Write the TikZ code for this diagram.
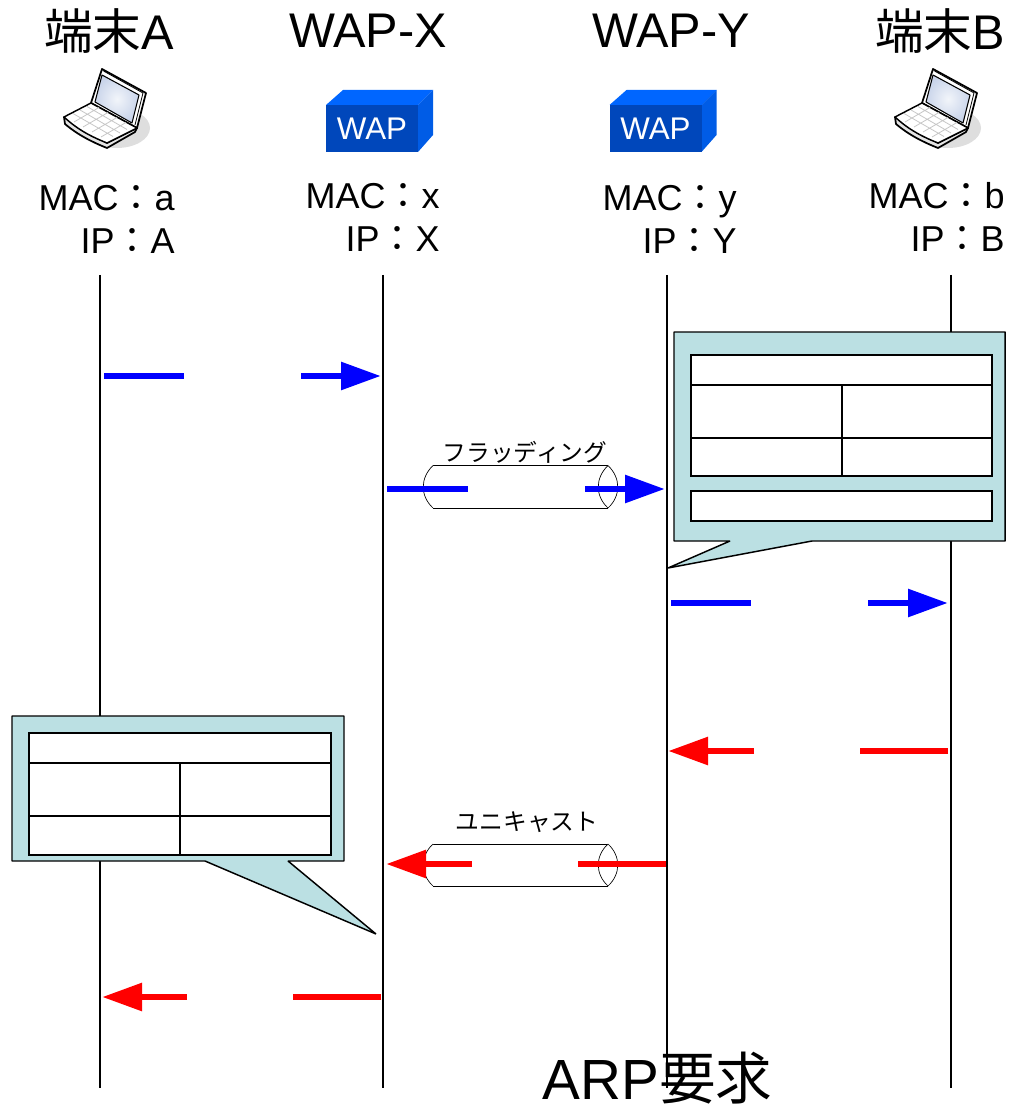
\documentclass[tikz,border=0pt]{standalone}
\usepackage{fontspec}
\setmainfont{Liberation Sans}
\newfontfamily\cjk{Noto Sans CJK JP}
\usetikzlibrary{arrows.meta}
\definecolor{tip100} {HTML}{BBE0E3}
\definecolor{wap600} {HTML}{0047BB}
\definecolor{wap400} {HTML}{0066FF}
\definecolor{wap500} {HTML}{005CE6}
\definecolor{shade300}{HTML}{DEDEDE}
\definecolor{deck100}{HTML}{E4E4E4}
\definecolor{lcd200} {HTML}{C9D4EA}
\definecolor{lcd100} {HTML}{F2F5FA}
\tikzset{
  head/.style  ={font=\fontsize{36.5}{40}\selectfont, inner sep=0pt},
  addr/.style  ={font=\fontsize{27}{32.25}\selectfont, align=right, inner sep=0pt},
  tag/.style   ={font=\fontsize{17.8}{20}\selectfont\cjk, inner sep=0pt},
  life/.style  ={draw=black, line width=1.1pt},
  tube/.style  ={draw=black, line width=0.5pt, fill=white},
  tipbox/.style={draw=black, line width=1.1pt, fill=tip100, line join=bevel},
  cell/.style  ={draw=black, line width=1.1pt, fill=white},
  cellv/.style ={draw=black, line width=0.9pt},
  mb/.style    ={draw=blue, line width=5pt},
  mr/.style    ={draw=red, line width=5pt},
  mbe/.style   ={draw=blue, line width=5pt, -{Triangle[length=30pt,width=20pt]}},
  mre/.style   ={draw=red, line width=5pt, -{Triangle[length=30pt,width=20pt]}},
  laptop/.pic={
    \fill[shade300] (117,128) ellipse (33 and 20);
    \draw[fill=white, line width=1.3pt, line join=round]
      (102,69) -- (146,93) -- (137,128) -- (91,103) -- cycle;
    \shade[inner color=lcd100, outer color=lcd200] (102,75) -- (139,95) -- (132,123) -- (95,102) -- cycle;
    \draw[line width=0.8pt, line join=round] (102,75) -- (139,95) -- (132,123) -- (95,102) -- cycle;
    \draw[line width=0.6pt] (103.5,71) -- (143,93) -- (135,125);
    \draw[fill=deck100, line width=1.3pt, line join=round]
      (64,117) -- (65,124) .. controls (78,135) and (92,142) .. (107,148)
      -- (135,132) -- (137,128) -- (107,143) -- cycle;
    \draw[fill=white, line width=1.1pt, line join=round]
      (64,117) -- (91,103) -- (137,128) -- (107,143) .. controls (92,137) and (78,130) .. (64,117) -- cycle;
    \draw[draw=black!22, line width=0.6pt]
      (73,113.5) -- (113,136.5) (80,110) -- (120,133) (87,106.5) -- (127,129.5)
      (74,122) -- (99,107.5) (83,127) -- (108,112.5) (92,132) -- (117,117.5) (101,137) -- (126,122.5);
  },
  wapbox/.pic={
    \fill[wap400] (326,105) -- (343,90) -- (433,90) -- (418,105) -- cycle;
    \fill[wap500] (418,105) -- (433,90) -- (433,135) -- (418,152) -- cycle;
    \fill[wap600] (326,105) rectangle (418,152);
  }
}

\begin{document}
\begin{tikzpicture}[x=0.75pt,y=-0.75pt]
\useasboundingbox (0,0) rectangle (1008,1105);

% lifelines
\coordinate (topA) at (100,275); \coordinate (botA) at (100,1088);
\coordinate (topX) at (383,275); \coordinate (botX) at (383,1088);
\coordinate (topY) at (667,275); \coordinate (botY) at (667,1088);
\coordinate (topB) at (951,275); \coordinate (botB) at (951,1088);
\draw[life] (topA) -- (botA);
\draw[life] (topX) -- (botX);
\draw[life] (topY) -- (botY);
\draw[life] (topB) -- (botB);

% heads of the four columns
\node[head] (headA) at (109,31) {{\cjk 端末}A};
\node[head] (headX) at (368,31) {WAP-X};
\node[head] (headY) at (671,31) {WAP-Y};
\node[head] (headB) at (940,31) {{\cjk 端末}B};

\pic at (0,0) {laptop};
\pic at (831,0) {laptop};
\pic at (0,0) {wapbox};
\pic at (283.5,0) {wapbox};
\node[font=\fontsize{23.5}{26}\selectfont, text=white, inner sep=0pt] (wapX) at (372,129) {WAP};
\node[font=\fontsize{23.5}{26}\selectfont, text=white, inner sep=0pt] (wapY) at (655.5,129) {WAP};

\node[addr, anchor=east] (addrA) at (175,219) {MAC{\cjk ：}a\\IP{\cjk ：}A};
\node[addr, anchor=east] (addrX) at (440,217) {MAC{\cjk ：}x\\IP{\cjk ：}X};
\node[addr, anchor=east] (addrY) at (737,219) {MAC{\cjk ：}y\\IP{\cjk ：}Y};
\node[addr, anchor=east] (addrB) at (1005,217) {MAC{\cjk ：}b\\IP{\cjk ：}B};

% tunnels between the two access points
\draw[tube] (433,465.5) -- (608,465.5) (433,508) -- (608,508);
\draw[tube] (433,465.5) .. controls (420,478) and (420,496) .. (433,508);
\draw[tube] (608,465.5) .. controls (595,478) and (595,496) .. (608,508)
            .. controls (621,496) and (621,478) .. (608,465.5);
\node[tag] (flood) at (525,452) {フラッディング};

\draw[tube] (433,844) -- (608,844) (433,886) -- (608,886);
\draw[tube] (433,844) .. controls (420,856) and (420,874) .. (433,886);
\draw[tube] (608,844) .. controls (595,856) and (595,874) .. (608,886)
            .. controls (621,874) and (621,856) .. (608,844);
\node[tag] (ucast) at (527,822.5) {ユニキャスト};

% blue frames, each broken where its label was
\coordinate (b1a) at (104,376); \coordinate (b1b) at (184,376);
\coordinate (b1c) at (301,376); \coordinate (b1d) at (381,376);
\coordinate (b2a) at (387,489); \coordinate (b2b) at (468,489);
\coordinate (b2c) at (585,489); \coordinate (b2d) at (665,489);
\coordinate (b3a) at (671,603); \coordinate (b3b) at (751,603);
\coordinate (b3c) at (868,603); \coordinate (b3d) at (948,603);
\draw[mb] (b1a) -- (b1b);
\draw[mbe] (b1c) -- (b1d);
\draw[mb] (b2a) -- (b2b);
\draw[mbe] (b2c) -- (b2d);
\draw[mb] (b3a) -- (b3b);
\draw[mbe] (b3c) -- (b3d);

% red frames coming back
\coordinate (r1a) at (948,751); \coordinate (r1b) at (860,751);
\coordinate (r1c) at (754,751); \coordinate (r1d) at (668,751);
\coordinate (r2a) at (666,864); \coordinate (r2b) at (578,864);
\coordinate (r2c) at (472,864); \coordinate (r2d) at (386,864);
\coordinate (r3a) at (381,997); \coordinate (r3b) at (293,997);
\coordinate (r3c) at (187,997); \coordinate (r3d) at (102,997);
\draw[mr] (r1a) -- (r1b);
\draw[mre] (r1c) -- (r1d);
\draw[mr] (r2a) -- (r2b);
\draw[mre] (r2c) -- (r2d);
\draw[mr] (r3a) -- (r3b);
\draw[mre] (r3c) -- (r3d);

% speech balloon at WAP-Y
\draw[tipbox] (674,332) -- (1005,332) -- (1005,541) -- (812,541) -- (668,568)
              -- (730,541) -- (674,541) -- cycle;
\draw[cell] (691,355) rectangle (992,476);
\draw[cell] (691,385) -- (992,385) (691,438) -- (992,438);
\draw[cellv] (842,385) -- (842,476);
\draw[cell] (691,491) rectangle (992,521);

% speech balloon at WAP-X
\draw[tipbox] (12,716) -- (344,716) -- (344,861) -- (288,861) -- (376,934)
              -- (205,861) -- (12,861) -- cycle;
\draw[cell] (29,733) rectangle (331,855);
\draw[cell] (29,763) -- (331,763) (29,816) -- (331,816);
\draw[cellv] (180,763) -- (180,855);

\node[font=\fontsize{42.5}{46}\selectfont, inner sep=0pt] (title) at (657.5,1078) {ARP{\cjk 要求}};
\end{tikzpicture}
\end{document}
